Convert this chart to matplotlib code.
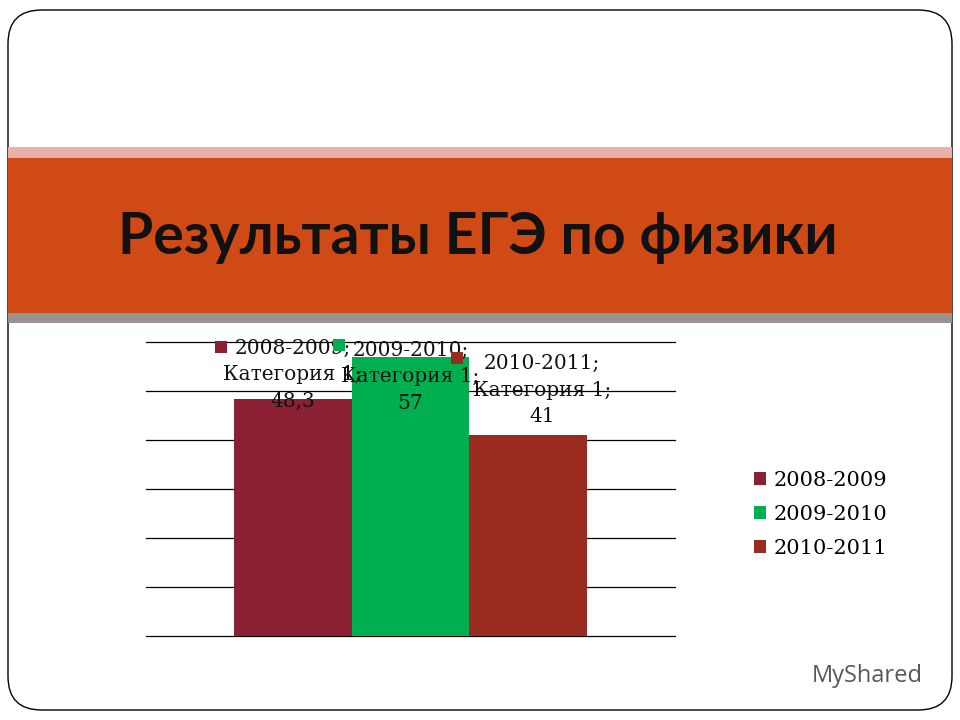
import matplotlib
matplotlib.use("Agg")
import matplotlib.pyplot as plt
from matplotlib.patches import FancyBboxPatch, Rectangle

title = "Результаты ЕГЭ по физики"
category = "Категория 1"
series = ["2008-2009", "2009-2010", "2010-2011"]
values = [48.3, 57, 41]
value_labels = ["48,3", "57", "41"]
colors = ["#8B2035", "#00B050", "#992B20"]

fig = plt.figure(figsize=(9.6, 7.2), dpi=100)
fig.patch.set_facecolor("white")

# slide frame
frame = FancyBboxPatch((8/960, 10/720), 944/960, 700/720,
                       boxstyle="round,pad=0,rounding_size=0.035",
                       transform=fig.transFigure, fill=False,
                       edgecolor="black", linewidth=1.0, mutation_aspect=960/720)
fig.patches.append(frame)

# header bands
fig.patches.append(Rectangle((8/960, 1 - 158/720), 944/960, 11/720, transform=fig.transFigure,
                             facecolor="#E8B2AA", edgecolor="none"))
fig.patches.append(Rectangle((8/960, 1 - 313/720), 944/960, 155/720, transform=fig.transFigure,
                             facecolor="#D04A16", edgecolor="none"))
fig.patches.append(Rectangle((8/960, 1 - 323/720), 944/960, 10/720, transform=fig.transFigure,
                             facecolor="#9A9290", edgecolor="none"))
fig.text(478/960, 1 - 238/720, title, ha="center", va="center", fontsize=41,
         fontweight="bold", family="Lato", color="#111111")

ax = fig.add_axes([146/960, 84/720, 529/960, 294/720])
ax.set_xlim(-0.5, 0.5)
ax.set_ylim(0, 60)
width = 0.223
xs = [-width, 0.0, width]
bars = []
for x, v, c, s in zip(xs, values, colors, series):
    b = ax.bar(x, v, width=width, color=c, label=s, zorder=2)
    bars.append(b)
for yv in range(0, 61, 10):
    ax.axhline(yv, color="black", linewidth=0.9, zorder=1, clip_on=False)
for sp in ax.spines.values():
    sp.set_visible(False)
ax.set_xticks([])
ax.set_yticks([])
ax.set_facecolor("none")

# data labels with legend keys
label_y = [53.3, 52.9, 50.2]
label_dx = [0.0, 0.0, 0.0255]
key_pos = [(221, 347), (339, 345), (457, 358)]
for x, ly, dx, s, vl, c, kp in zip(xs, label_y, label_dx, series, value_labels, colors, key_pos):
    ax.text(x + dx, ly, f"{s};\n{category};\n{vl}", ha="center", va="center",
            fontsize=14.5, family="DejaVu Serif", color="#111111", linespacing=1.5,
            clip_on=False, zorder=3)
    fig.patches.append(Rectangle(((kp[0] - 6)/960, 1 - (kp[1] + 6)/720), 12/960, 12/720,
                                 transform=fig.transFigure, facecolor=c, edgecolor="none", zorder=4))

leg = fig.legend(handles=[b[0] for b in bars], labels=series, loc="center left",
                 bbox_to_anchor=(735/960, 1 - 514/720), frameon=False,
                 prop={"family": "DejaVu Serif", "size": 15},
                 handlelength=0.6, handleheight=0.6, handletextpad=0.35, labelspacing=0.72)

fig.text(812/960, 1 - 676/720, "MyShared", ha="left", va="center", fontsize=17,
         family="Open Sans", color="#555a55")

fig.savefig("out.png", dpi=100)
